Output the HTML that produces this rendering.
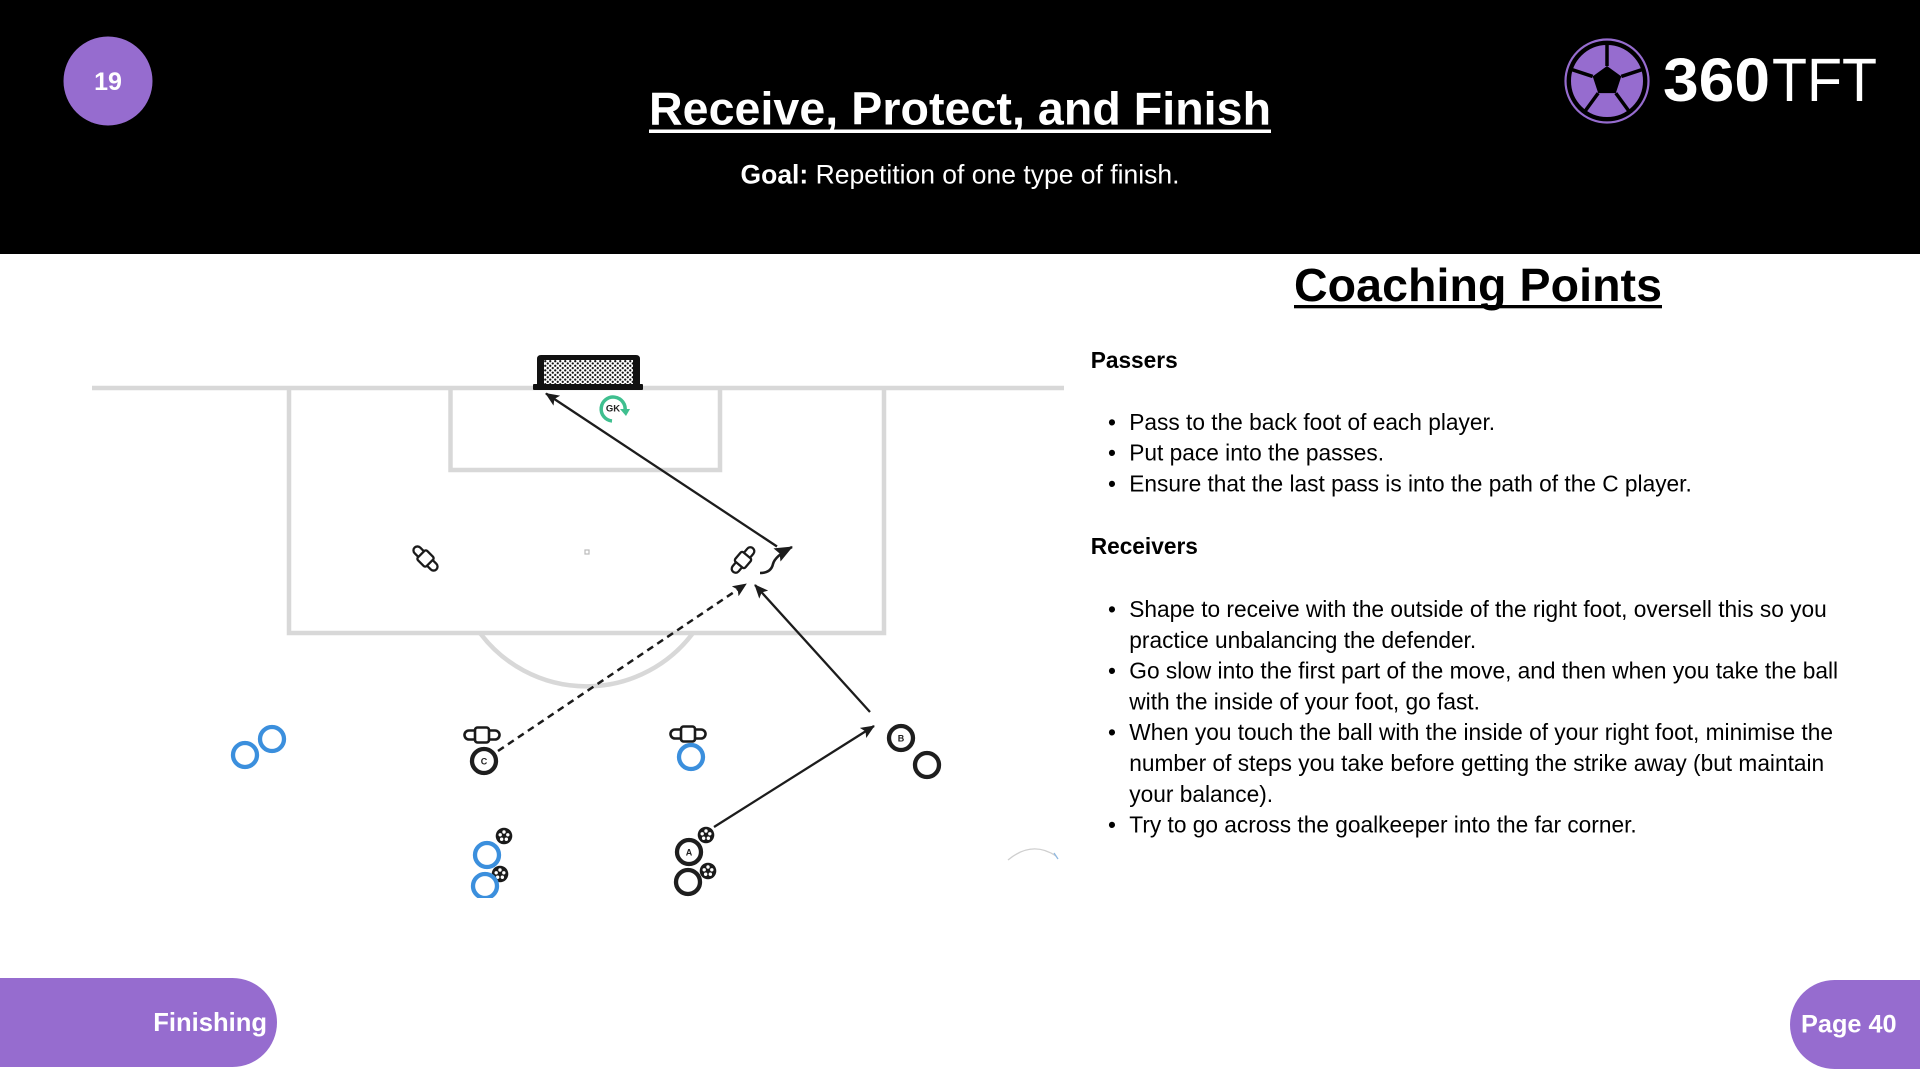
<!DOCTYPE html>
<html>
<head>
<meta charset="utf-8">
<style>
  html, body { margin: 0; padding: 0; background: #ffffff; }
  body { width: 1920px; height: 1080px; overflow: hidden; }
  svg { display: block; }
  text { font-family: "Liberation Sans", Arial, sans-serif; }
</style>
</head>
<body>
<svg width="1920" height="1080" viewBox="0 0 1920 1080" xmlns="http://www.w3.org/2000/svg">
  <defs>
    <pattern id="net" width="5" height="4.6" patternUnits="userSpaceOnUse" x="544" y="360">
      <rect width="5" height="4.6" fill="#ffffff"/>
      <circle cx="1.25" cy="1.15" r="1.15" fill="#111"/>
      <circle cx="3.75" cy="3.45" r="1.15" fill="#111"/>
    </pattern>
    <marker id="ah" viewBox="0 0 14 12" markerWidth="14" markerHeight="12" refX="13" refY="6" orient="auto" markerUnits="userSpaceOnUse">
      <path d="M0,0 L14,6 L0,12 L3,6 Z" fill="#1c1c1c"/>
    </marker>
    <marker id="ah2" viewBox="0 0 18 15" markerWidth="18" markerHeight="15" refX="17" refY="7.5" orient="auto" markerUnits="userSpaceOnUse">
      <path d="M0,0 L18,7.5 L0,15 L3,7.5 Z" fill="#1c1c1c"/>
    </marker>
    <g id="mq">
      <rect x="-17.5" y="-4.5" width="35" height="9" rx="4.5" fill="#fff" stroke="#1a1a1a" stroke-width="2.6"/>
      <rect x="-7" y="-7.5" width="14" height="15" rx="2.5" fill="#fff" stroke="#1a1a1a" stroke-width="2.6"/>
    </g>
    <g id="ball">
      <circle r="8.3" fill="#1a1a1a"/>
      <circle cx="0" cy="-4" r="1.7" fill="#fff"/>
      <circle cx="3.8" cy="-1.2" r="1.7" fill="#fff"/>
      <circle cx="2.35" cy="3.25" r="1.7" fill="#fff"/>
      <circle cx="-2.35" cy="3.25" r="1.7" fill="#fff"/>
      <circle cx="-3.8" cy="-1.2" r="1.7" fill="#fff"/>
    </g>
    <clipPath id="diag"><rect x="0" y="256" width="1080" height="642"/></clipPath>
  </defs>

  <!-- Header -->
  <rect x="0" y="0" width="1920" height="254" fill="#000"/>
  <circle cx="108" cy="81" r="44.5" fill="#966ccf"/>
  <text x="108" y="90" text-anchor="middle" font-size="25" font-weight="bold" fill="#fff">19</text>

  <text x="960" y="124.5" text-anchor="middle" font-size="46.5" font-weight="bold" fill="#fff" textLength="622" lengthAdjust="spacing">Receive, Protect, and Finish</text>
  <rect x="649" y="129.5" width="622" height="3.5" fill="#fff"/>

  <text x="960" y="183.5" text-anchor="middle" font-size="26.5" fill="#fff"><tspan font-weight="bold">Goal:</tspan> Repetition of one type of finish.</text>

  <!-- Logo -->
  <circle cx="1607" cy="81" r="41.5" fill="none" stroke="#966ccf" stroke-width="2.2"/>
  <circle cx="1607" cy="81" r="37" fill="#966ccf"/>
  <g stroke="#000" stroke-width="3.5">
    <line x1="1607" y1="66" x2="1607" y2="43"/>
    <line x1="1621.3" y1="76.4" x2="1643" y2="69.3"/>
    <line x1="1615.8" y1="93.1" x2="1629.2" y2="111.5"/>
    <line x1="1598.2" y1="93.1" x2="1584.8" y2="111.5"/>
    <line x1="1592.7" y1="76.4" x2="1571" y2="69.3"/>
  </g>
  <polygon points="1607,66 1621.3,76.4 1615.8,93.1 1598.2,93.1 1592.7,76.4" fill="#000"/>
  <circle cx="1607" cy="81" r="37" fill="none" stroke="#000" stroke-width="2"/>
  <text x="1663" y="101" font-size="61.5" font-weight="bold" fill="#fff" textLength="107" lengthAdjust="spacingAndGlyphs">360</text>
  <text x="1772" y="101" font-size="61.5" fill="#fff" textLength="105" lengthAdjust="spacingAndGlyphs">TFT</text>

  <!-- Diagram -->
  <g clip-path="url(#diag)">
    <g stroke="#d8d8d8" stroke-width="4.5" fill="none">
      <line x1="92" y1="388" x2="1064" y2="388"/>
      <polyline points="289,388 289,633 884,633 884,388"/>
      <polyline points="450.5,388 450.5,470 720,470 720,388"/>
      <path d="M480,633 A133,133 0 0 0 693,633"/>
    </g>
    <rect x="585" y="550" width="4" height="4" fill="none" stroke="#bbb" stroke-width="1.2"/>
    <path d="M1008,860 Q1032,840 1056,856" fill="none" stroke="#cfcfcf" stroke-width="1.3"/>
    <path d="M1054,853 L1058,859" stroke="#8fb8e0" stroke-width="1.3"/>

    <!-- goal -->
    <path d="M537,386 V359 Q537,355 541,355 H636 Q640,355 640,359 V386 Z" fill="#111"/>
    <rect x="544" y="360" width="89" height="24" fill="url(#net)"/>
    <rect x="533" y="384" width="110" height="6" rx="1" fill="#111"/>

    <!-- GK -->
    <path d="M612,421 A12,12 0 1 1 625,411" fill="none" stroke="#3fbf8f" stroke-width="3.5"/>
    <polygon points="620,409 630,409 626,416" fill="#3fbf8f"/>
    <text x="613" y="411.5" text-anchor="middle" font-size="9.5" font-weight="bold" fill="#222">GK</text>

    <!-- mannequins -->
    <use href="#mq" transform="translate(425.5,558.5) rotate(45) scale(0.88)"/>
    <use href="#mq" transform="translate(743,560) rotate(-50) scale(0.88)"/>
    <use href="#mq" transform="translate(482,735)"/>
    <use href="#mq" transform="translate(688,734)"/>

    <!-- arrows -->
    <g stroke="#1c1c1c" stroke-width="2.3" fill="none">
      <line x1="777" y1="546.5" x2="546" y2="393.5" marker-end="url(#ah)"/>
      <line x1="498" y1="751" x2="746" y2="584" stroke-dasharray="7 5" stroke-width="2.5" marker-end="url(#ah)"/>
      <line x1="870" y1="712" x2="755" y2="585" marker-end="url(#ah)"/>
      <line x1="714" y1="827" x2="874" y2="726" marker-end="url(#ah)"/>
      <path d="M760,573 Q771,573 773,564 Q775,556 792,547" stroke-width="2.6" marker-end="url(#ah2)"/>
    </g>

    <!-- balls -->
    <use href="#ball" transform="translate(504,836)"/>
    <use href="#ball" transform="translate(500,874)"/>
    <use href="#ball" transform="translate(706,835)"/>
    <use href="#ball" transform="translate(708,871)"/>

    <!-- players -->
    <g fill="#fff" stroke-width="4.3">
      <circle cx="245" cy="755" r="12" stroke="#3b8fdd"/>
      <circle cx="272" cy="739" r="12" stroke="#3b8fdd"/>
      <circle cx="484" cy="761" r="12" stroke="#1e1e1e"/>
      <circle cx="691" cy="757" r="12" stroke="#3b8fdd"/>
      <circle cx="901" cy="738" r="12" stroke="#1e1e1e"/>
      <circle cx="927" cy="765" r="12" stroke="#1e1e1e"/>
      <circle cx="487" cy="855" r="12" stroke="#3b8fdd"/>
      <circle cx="485" cy="886" r="12" stroke="#3b8fdd"/>
      <circle cx="689" cy="852" r="12" stroke="#1e1e1e"/>
      <circle cx="688" cy="882" r="12" stroke="#1e1e1e"/>
    </g>
    <g font-size="9" font-weight="bold" fill="#1e1e1e" text-anchor="middle">
      <text x="484" y="764.5">C</text>
      <text x="901" y="741.5">B</text>
      <text x="689" y="855.5">A</text>
    </g>
  </g>

  <!-- Coaching points -->
  <text x="1478" y="301" text-anchor="middle" font-size="46.5" font-weight="bold" fill="#000" textLength="368" lengthAdjust="spacing">Coaching Points</text>
  <rect x="1294" y="305" width="368" height="3.3" fill="#000"/>

  <g font-size="22.7" fill="#000">
    <text x="1090.7" y="368" font-weight="bold">Passers</text>
    <text x="1108" y="430">•</text>
    <text x="1129.3" y="430">Pass to the back foot of each player.</text>
    <text x="1108" y="460.7">•</text>
    <text x="1129.3" y="460.7">Put pace into the passes.</text>
    <text x="1108" y="491.4">•</text>
    <text x="1129.3" y="491.4">Ensure that the last pass is into the path of the C player.</text>

    <text x="1090.7" y="554" font-weight="bold">Receivers</text>
    <text x="1108" y="617">•</text>
    <text x="1129.3" y="617">Shape to receive with the outside of the right foot, oversell this so you</text>
    <text x="1129.3" y="647.8">practice unbalancing the defender.</text>
    <text x="1108" y="678.6">•</text>
    <text x="1129.3" y="678.6">Go slow into the first part of the move, and then when you take the ball</text>
    <text x="1129.3" y="709.4">with the inside of your foot, go fast.</text>
    <text x="1108" y="740.2">•</text>
    <text x="1129.3" y="740.2">When you touch the ball with the inside of your right foot, minimise the</text>
    <text x="1129.3" y="771">number of steps you take before getting the strike away (but maintain</text>
    <text x="1129.3" y="801.8">your balance).</text>
    <text x="1108" y="832.6">•</text>
    <text x="1129.3" y="832.6">Try to go across the goalkeeper into the far corner.</text>
  </g>

  <!-- Footer -->
  <path d="M0,978 H232.5 A44.5,44.5 0 0 1 232.5,1067 H0 Z" fill="#966ccf"/>
  <text x="267" y="1031" text-anchor="end" font-size="25.6" font-weight="bold" fill="#fff">Finishing</text>
  <path d="M1920,980 H1834.5 A44.5,44.5 0 0 0 1834.5,1069 H1920 Z" fill="#966ccf"/>
  <text x="1801" y="1032.7" font-size="25.3" font-weight="bold" fill="#fff">Page 40</text>
</svg>
</body>
</html>
